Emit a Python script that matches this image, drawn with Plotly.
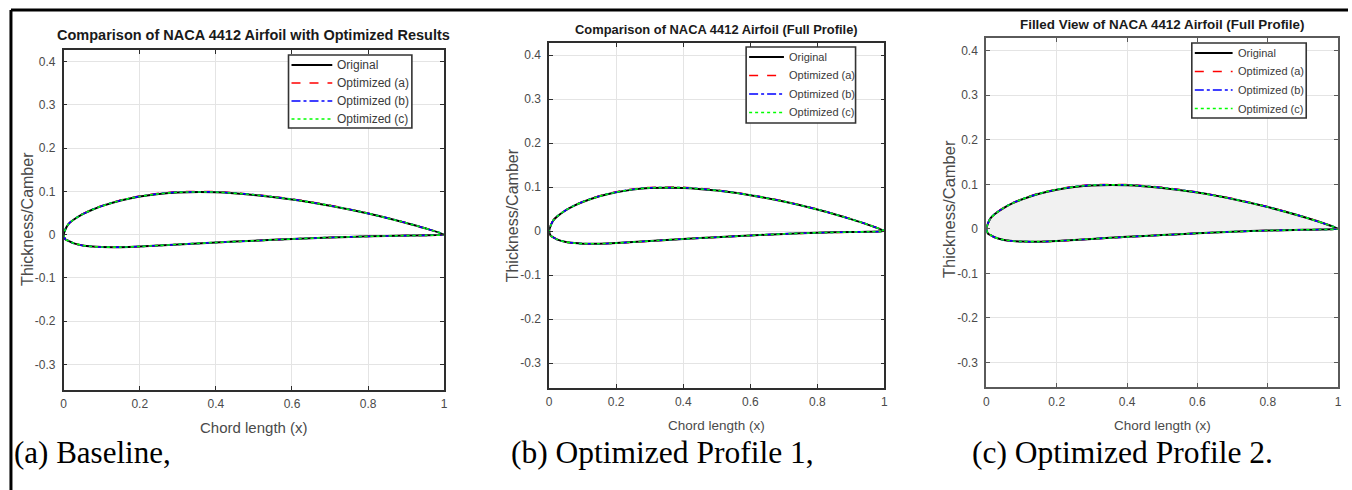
import plotly.graph_objects as go

# ---------------- data ----------------
x_chord = [1.0, 0.95, 0.9, 0.8, 0.7, 0.6, 0.5, 0.4, 0.3, 0.25, 0.2, 0.15, 0.1, 0.075, 0.05, 0.025, 0.0125, 0.005, 0.0,
           0.005, 0.0125, 0.025, 0.05, 0.075, 0.1, 0.15, 0.2, 0.25, 0.3, 0.4, 0.5, 0.6, 0.7, 0.8, 0.9, 0.95, 1.0]

y_original = [0.0, 0.0147, 0.0271, 0.0489, 0.0669, 0.0814, 0.0919, 0.0980, 0.0976, 0.0941, 0.0880, 0.0789, 0.0659,
              0.0576, 0.0473, 0.0339, 0.0244, 0.0132, 0.0,
              -0.0112, -0.0143, -0.0195, -0.0249, -0.0274, -0.0286, -0.0288, -0.0274, -0.0250, -0.0226, -0.0180,
              -0.0140, -0.0100, -0.0065, -0.0039, -0.0022, -0.0016, 0.0]

y_opt_a = [0.0, 0.0150, 0.0276, 0.0496, 0.0678, 0.0825, 0.0931, 0.0994, 0.0990, 0.0954, 0.0892, 0.0800, 0.0668,
           0.0584, 0.0480, 0.0344, 0.0248, 0.0134, 0.0,
           -0.0113, -0.0145, -0.0197, -0.0251, -0.0276, -0.0288, -0.0290, -0.0276, -0.0252, -0.0228, -0.0182,
           -0.0141, -0.0101, -0.0066, -0.0040, -0.0022, -0.0016, 0.0]

y_opt_b = [0.0, 0.0149, 0.0274, 0.0493, 0.0674, 0.0820, 0.0926, 0.0988, 0.0984, 0.0948, 0.0886, 0.0795, 0.0664,
           0.0580, 0.0477, 0.0342, 0.0246, 0.0133, 0.0,
           -0.0112, -0.0144, -0.0196, -0.0250, -0.0275, -0.0287, -0.0289, -0.0275, -0.0251, -0.0227, -0.0181,
           -0.0141, -0.0101, -0.0065, -0.0039, -0.0022, -0.0016, 0.0]

y_opt_c = [0.0, 0.0148, 0.0273, 0.0491, 0.0672, 0.0817, 0.0923, 0.0985, 0.0981, 0.0945, 0.0884, 0.0793, 0.0662,
           0.0578, 0.0475, 0.0341, 0.0245, 0.0133, 0.0,
           -0.0112, -0.0143, -0.0195, -0.0249, -0.0274, -0.0286, -0.0288, -0.0274, -0.0250, -0.0226, -0.0180,
           -0.0140, -0.0100, -0.0065, -0.0039, -0.0022, -0.0016, 0.0]

series_names = ["Original", "Optimized (a)", "Optimized (b)", "Optimized (c)"]

x_tick_vals = [0, 0.2, 0.4, 0.6, 0.8, 1]
x_tick_text = ["0", "0.2", "0.4", "0.6", "0.8", "1"]
y_tick_vals = [-0.3, -0.2, -0.1, 0, 0.1, 0.2, 0.3, 0.4]
y_tick_text = ["-0.3", "-0.2", "-0.1", "0", "0.1", "0.2", "0.3", "0.4"]

panel_titles = ["Comparison of NACA 4412 Airfoil with Optimized Results",
                "Comparison of NACA 4412 Airfoil (Full Profile)",
                "Filled View of NACA 4412 Airfoil (Full Profile)"]
captions = ["(a) Baseline,", "(b) Optimized Profile 1,", "(c) Optimized Profile 2."]

# ---------------- layout helpers ----------------
W, H = 1352, 490
SANS = "Liberation Sans, Arial, sans-serif"
SERIF = "Liberation Serif, Times New Roman, serif"


def px(x):
    return x / W


def py(y):
    return 1 - y / H


# pixel boxes of the three plot areas: (left, right, top, bottom)
boxes = [(61, 443.5, 50, 389.5), (549, 886, 42.7, 387.7), (988.5, 1342, 38.3, 387.3)]
y_ranges = [[-0.358, 0.427], [-0.356, 0.428], [-0.356, 0.428]]
title_pos = [(252, 35, 14.5), (717.5, 29, 12.9), (1165, 25, 13.4)]
ytitle_pos = [(24, 219, 16), (513, 215, 16), (951, 209, 16.5)]
xtitle_y = [(427, 15), (425, 13.5), (425, 13.5)]
caption_x = [9, 509, 972]
caption_size = [31, 31.5, 31.5]
axis_line = [("#2e2e2e", 1.6), ("#2e2e2e", 1.6), ("#5a5a5a", 2.2)]

# legend boxes: (left, right, top, bottom), sample x0, x1, text x, row ys, font size
legend_boxes = [
    ((287, 411, 55, 128), 290, 331, 334, [65, 83, 101, 119], 12),
    ((747, 857, 47, 123), 750, 785, 788, [57, 75.5, 94, 112.5], 11),
    ((1195, 1310, 43, 118), 1198, 1236, 1239, [53, 71.5, 90, 108.5], 11),
]

styles = [
    dict(color="black", width=2, dash="solid"),
    dict(color="#ff0000", width=1.6, dash="dash"),
    dict(color="#0000ff", width=1.6, dash="dashdot"),
    dict(color="#00ff00", width=1.6, dash="dot"),
]
all_y = [y_original, y_opt_a, y_opt_b, y_opt_c]

fig = go.Figure()
annotations = []
shapes = []
layout_axes = {}

for p in range(3):
    sfx = "" if p == 0 else str(p + 1)
    for k in range(4):
        tr = dict(
            x=x_chord, y=all_y[k], mode="lines", name=series_names[k],
            line=dict(shape="spline", smoothing=0.6, **styles[k]),
            xaxis="x" + sfx, yaxis="y" + sfx, showlegend=False, hoverinfo="skip",
        )
        if p == 2 and k == 0:
            tr["fill"] = "toself"
            tr["fillcolor"] = "#f1f1f1"
        fig.add_trace(go.Scatter(**tr))

    l, r, t, b = boxes[p]
    lc, lw = axis_line[p]
    common = dict(
        showline=True, linecolor=lc, linewidth=lw, mirror="ticks",
        ticks="inside", ticklen=4, tickcolor=lc, tickwidth=1.2,
        showgrid=True, gridcolor="#e4e4e4", gridwidth=1, zeroline=False,
        tickfont=dict(family=SANS, size=12, color="#4a4a4a"),
        fixedrange=True,
    )
    layout_axes["xaxis" + sfx] = dict(
        domain=[px(l), px(r)], range=[0, 1], anchor="y" + sfx,
        tickvals=x_tick_vals, ticktext=x_tick_text, ticklabelstandoff=2, **common)
    layout_axes["yaxis" + sfx] = dict(
        domain=[py(b), py(t)], range=y_ranges[p], anchor="x" + sfx,
        tickvals=y_tick_vals, ticktext=y_tick_text, ticklabelstandoff=4, **common)

    # legend (drawn by hand to match compact MATLAB legend)
    (bl, br, bt, bb), sx0, sx1, tx0, rows, fs = legend_boxes[p]
    shapes.append(dict(type="rect", xref="paper", yref="paper",
                       x0=px(bl), x1=px(br), y0=py(bb), y1=py(bt),
                       line=dict(color="#333333", width=1.6), fillcolor="white", layer="above"))
    for k in range(4):
        st = styles[k]
        shapes.append(dict(type="line", xref="paper", yref="paper",
                           x0=px(sx0), x1=px(sx1), y0=py(rows[k]), y1=py(rows[k]),
                           line=dict(color=st["color"], width=st["width"], dash=st["dash"]), layer="above"))
        annotations.append(dict(
            text=series_names[k], x=px(tx0), y=py(rows[k]), xref="paper", yref="paper",
            xanchor="left", yanchor="middle", showarrow=False,
            font=dict(family=SANS, size=fs, color="#3a3a3a")))

    tx, ty, ts = title_pos[p]
    annotations.append(dict(
        text=f"<b>{panel_titles[p]}</b>", x=px(tx), y=py(ty), xref="paper", yref="paper",
        xanchor="center", yanchor="middle", showarrow=False,
        font=dict(family=SANS, size=ts, color="#1a1a1a")))
    yx, yy, ys = ytitle_pos[p]
    annotations.append(dict(
        text="Thickness/Camber", x=px(yx), y=py(yy), xref="paper", yref="paper",
        xanchor="center", yanchor="middle", showarrow=False, textangle=-90,
        font=dict(family=SANS, size=ys, color="#4a4a4a")))
    xty, xts = xtitle_y[p]
    annotations.append(dict(
        text="Chord length (x)", x=px((l + r) / 2), y=py(xty), xref="paper", yref="paper",
        xanchor="center", yanchor="middle", showarrow=False,
        font=dict(family=SANS, size=xts, color="#4a4a4a")))
    annotations.append(dict(
        text=captions[p], x=px(caption_x[p]), y=py(452), xref="paper", yref="paper",
        xanchor="left", yanchor="middle", showarrow=False,
        font=dict(family=SERIF, size=caption_size[p], color="black")))

shapes += [
    dict(type="line", xref="paper", yref="paper", x0=px(8), x1=1, y0=py(10), y1=py(10),
         line=dict(color="black", width=3)),
    dict(type="line", xref="paper", yref="paper", x0=px(8), x1=px(8), y0=0, y1=py(10),
         line=dict(color="black", width=3)),
]

fig.update_layout(
    width=W, height=H, autosize=False,
    margin=dict(l=0, r=0, t=0, b=0),
    paper_bgcolor="white", plot_bgcolor="white",
    showlegend=False, annotations=annotations, shapes=shapes,
    **layout_axes,
)

fig.write_html("out.html", config={"displayModeBar": False})
